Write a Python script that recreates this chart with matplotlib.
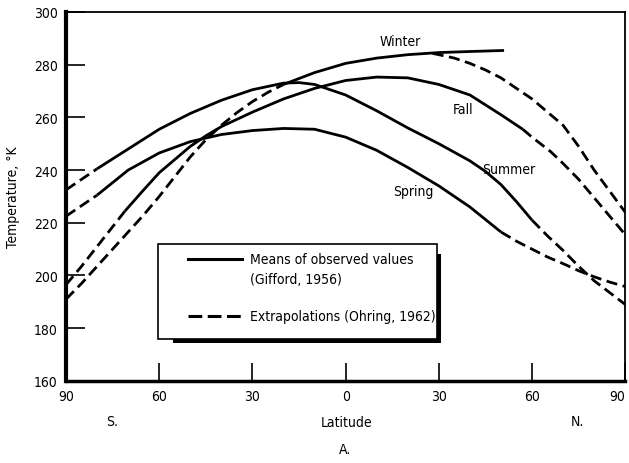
import matplotlib
matplotlib.use('Agg')
import matplotlib.pyplot as plt
from matplotlib import font_manager
from matplotlib.patches import Rectangle
from matplotlib.lines import Line2D

# pick a narrow sans face if one is installed
narrow = None
for f in font_manager.fontManager.ttflist:
    name = f.name.lower()
    if f.style == 'normal' and f.weight in (400, 'normal', 'regular') and (
            'narrow' in name or 'condensed' in name or f.stretch == 'condensed'):
        narrow = f
        break
if narrow is not None:
    plt.rcParams['font.family'] = [narrow.name, 'DejaVu Sans']
    plt.rcParams['font.stretch'] = narrow.stretch
    fs = 10
    fs_tick = 10
else:
    plt.rcParams['font.family'] = ['DejaVu Sans']
    fs = 8.5
    fs_tick = 9

# latitude in degrees: south negative, north positive
# temperatures in degrees K

# Winter
winter_s_lat = [-90, -85, -80, -75, -70, -65, -60, -55, -50, -45, -40, -35, -30, -25, -20]
winter_s_t = [191, 197, 203.5, 210, 216.5, 223, 230, 237.5, 245, 251.5, 257, 261.8, 266, 269.5, 272.5]
winter_lat = [-20, -10, 0, 10, 20, 30, 40, 51]
winter_t = [272.5, 277, 280.5, 282.5, 283.8, 284.6, 285, 285.4]
winter_n_lat = [28, 35, 40, 45, 50, 55, 60, 65, 70, 75, 80, 85, 90]
winter_n_t = [284.3, 282.5, 280.5, 278, 275, 271, 267, 262, 257, 249, 240, 232, 224]

# Fall
fall_s_lat = [-90, -85, -80, -75, -71]
fall_s_t = [196.5, 203.5, 211, 218.5, 224.5]
fall_lat = [-71, -65, -60, -50, -45, -40, -30, -20, -10, 0, 10, 20, 30, 40, 50, 57]
fall_t = [224.5, 232.5, 239, 249, 253, 256.5, 262, 267, 271, 274, 275.3, 275, 272.5, 268.5, 261, 255.5]
fall_n_lat = [57, 60, 66, 70, 75, 80, 85, 90]
fall_n_t = [255.5, 252.5, 247, 242.5, 236.5, 229.5, 222.5, 215.5]

# Summer
summer_s_lat = [-90, -85, -80]
summer_s_t = [232.5, 236.5, 240.5]
summer_lat = [-80, -70, -60, -50, -40, -30, -20, -15, -10, 0, 10, 20, 30, 40, 45, 50, 55, 60]
summer_t = [240.5, 248, 255.5, 261.5, 266.5, 270.5, 273, 273.2, 272.5, 268.5, 262.5, 256, 250, 243.5, 239.5, 234.5, 228, 221]
summer_n_lat = [60, 65, 70, 75, 80, 85, 90]
summer_n_t = [221, 215, 209.5, 203.5, 198, 193.5, 189]

# Spring
spring_s_lat = [-90, -85, -80]
spring_s_t = [222.5, 226.5, 230.5]
spring_lat = [-80, -70, -60, -50, -40, -30, -20, -10, 0, 10, 20, 30, 40, 50]
spring_t = [230.5, 240, 246.5, 250.8, 253.5, 255, 255.8, 255.5, 252.5, 247.5, 241, 234, 226, 216.5]
spring_n_lat = [50, 55, 60, 65, 70, 75, 80, 85, 90]
spring_n_t = [216.5, 213, 210, 207, 204.5, 201.8, 199.5, 197.5, 195.8]

season_names = ['Winter', 'Fall', 'Summer', 'Spring']
season_label_pos = [(17.7, 289), (37.7, 263.2), (52.6, 240.4), (21.9, 232)]

xticks = [-90, -60, -30, 0, 30, 60, 90]
yticks = [160, 180, 200, 220, 240, 260, 280, 300]

fig = plt.figure(figsize=(6.29, 4.64), dpi=100)
ax = fig.add_axes([0.105, 0.177, 0.889, 0.795])

lw = 2.0
dash = [4, 2]

def solid(x, y):
    ax.plot(x, y, color='black', lw=lw, solid_capstyle='butt', solid_joinstyle='round')

def dashed(x, y):
    ln, = ax.plot(x, y, color='black', lw=lw, dash_capstyle='butt')
    ln.set_dashes(dash)

for lat, t in [(winter_lat, winter_t), (fall_lat, fall_t),
               (summer_lat, summer_t), (spring_lat, spring_t)]:
    solid(lat, t)
for lat, t in [(winter_s_lat, winter_s_t), (winter_n_lat, winter_n_t),
               (fall_s_lat, fall_s_t), (fall_n_lat, fall_n_t),
               (summer_s_lat, summer_s_t), (summer_n_lat, summer_n_t),
               (spring_s_lat, spring_s_t), (spring_n_lat, spring_n_t)]:
    dashed(lat, t)

for name, (x, y) in zip(season_names, season_label_pos):
    ax.text(x, y, name, fontsize=fs, ha='center', va='center')

ax.set_xlim(-90, 90)
ax.set_ylim(160, 300)
ax.set_xticks(xticks)
ax.set_xticklabels([str(abs(v)) for v in xticks])
ax.get_xticklabels()[-1].set_horizontalalignment('right')
ax.set_yticks(yticks)
ax.tick_params(direction='in', length=13, width=1.2, labelsize=fs_tick, pad=6)
ax.tick_params(axis='y', length=14)
ax.spines['left'].set_linewidth(3)
ax.spines['bottom'].set_linewidth(2.5)
ax.spines['top'].set_linewidth(1.3)
ax.spines['right'].set_linewidth(1.3)

ax.set_ylabel('Temperature, °K', fontsize=fs, labelpad=10)

# axis captions under the latitude scale
fig.text(112 / 629, 1 - 422 / 464, 'S.', fontsize=fs, ha='center', va='center')
fig.text(577 / 629, 1 - 422 / 464, 'N.', fontsize=fs, ha='center', va='center')
fig.text(347 / 629, 1 - 423 / 464, 'Latitude', fontsize=fs, ha='center', va='center')
fig.text(345 / 629, 1 - 450 / 464, 'A.', fontsize=fs, ha='center', va='center')

# legend box with a heavy shadow on the lower right
bx0, by0, bx1, by1 = 158 / 629, 1 - 340 / 464, 437 / 629, 1 - 245 / 464
sx0, sy0, sx1, sy1 = 173 / 629, 1 - 343.5 / 464, 440.5 / 629, 1 - 255 / 464
shadow = Rectangle((sx0, sy0), sx1 - sx0, sy1 - sy0, transform=fig.transFigure,
                   facecolor='black', edgecolor='none', zorder=5)
box = Rectangle((bx0, by0), bx1 - bx0, by1 - by0, transform=fig.transFigure,
                facecolor='white', edgecolor='black', lw=1.2, zorder=6)
fig.add_artist(shadow)
fig.add_artist(box)

l1 = Line2D([188 / 629, 242 / 629], [1 - 260 / 464] * 2, transform=fig.transFigure,
            color='black', lw=2.2, zorder=7)
l2 = Line2D([188 / 629, 242 / 629], [1 - 317 / 464] * 2, transform=fig.transFigure,
            color='black', lw=2.2, zorder=7)
l2.set_dashes([4.5, 1.8])
fig.add_artist(l1)
fig.add_artist(l2)
fig.text(250 / 629, 1 - 260 / 464, 'Means of observed values', fontsize=fs,
         va='center', zorder=8)
fig.text(250 / 629, 1 - 280 / 464, '(Gifford, 1956)', fontsize=fs, va='center', zorder=8)
fig.text(250 / 629, 1 - 317 / 464, 'Extrapolations (Ohring, 1962)', fontsize=fs,
         va='center', zorder=8)

fig.savefig('out.png', dpi=100)
